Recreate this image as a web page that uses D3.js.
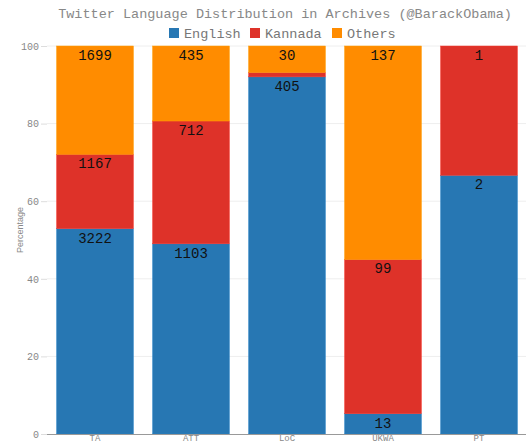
<!DOCTYPE html>
<html><head><meta charset="utf-8">
<script src="https://cdn.jsdelivr.net/npm/d3@7"></script>
<style>body{margin:0;background:#fff}svg{display:block}</style>
</head><body>
<script>
const categories = ["TA","ATT","LoC","UKWA","PT"];
const seriesNames = ["English","Kannada","Others"];
const english = [3222,1103,405,13,2];
const kannada = [1167,712,5,99,1];
const others = [1699,435,30,137,0];
const colors = ["#2777b3","#de3229","#ff8c00"];
const yTicks = [0,20,40,60,80,100];

const W=526,H=444;
const m={l:47,r:-1,t:46,b:10};
const svg=d3.select("body").append("svg").attr("width",W).attr("height",H);
const font="'Liberation Mono', 'DejaVu Sans Mono', monospace";

const x=d3.scaleBand().domain(categories).range([m.l,W-m.r]).paddingInner(0.2).paddingOuter(0.1);
const y=d3.scaleLinear().domain([0,100]).range([434,46]);

const rows=categories.map((c,i)=>({cat:c,English:english[i],Kannada:kannada[i],Others:others[i]}));
rows.forEach(r=>{const t=r.English+r.Kannada+r.Others;seriesNames.forEach(s=>{r["p_"+s]=r[s]/t*100;});});
const stack=d3.stack().keys(seriesNames.map(s=>"p_"+s))(rows);

// grid
svg.append("g").selectAll("line").data(yTicks.filter(d=>d>0)).join("line")
 .attr("x1",m.l).attr("x2",W).attr("y1",d=>y(d)).attr("y2",d=>y(d))
 .attr("stroke","#eee").attr("stroke-width",1);

// bars
stack.forEach((layer,k)=>{
  const g=svg.append("g");
  g.selectAll("rect").data(layer).join("rect")
   .attr("x",d=>x(d.data.cat)).attr("width",x.bandwidth())
   .attr("y",d=>y(d[1])).attr("height",d=>y(d[0])-y(d[1]))
   .attr("fill",colors[k]).attr("stroke",d3.color(colors[k]).brighter(0.3)).attr("stroke-width",0.5);
  g.selectAll("text").data(layer.filter(d=>d.data[seriesNames[k]]>0 && (y(d[0])-y(d[1]))>16)).join("text")
   .attr("x",d=>x(d.data.cat)+x.bandwidth()/2).attr("y",d=>y(d[1])+14)
   .attr("text-anchor","middle").attr("font-family",font).attr("font-size",14).attr("fill","#111")
   .text(d=>d.data[seriesNames[k]]);
});

// y axis
const ya=svg.append("g").attr("transform",`translate(${m.l},0)`)
 .call(d3.axisLeft(y).tickValues(yTicks).tickSize(6).tickPadding(2));
ya.select(".domain").remove();
ya.selectAll("line").attr("stroke","#ddd");
ya.selectAll("text").attr("font-family",font).attr("font-size",10).attr("fill","#888");

// x axis
const xa=svg.append("g").attr("transform","translate(0,434)")
 .call(d3.axisBottom(x).tickSize(0).tickPadding(1));
xa.select(".domain").attr("stroke","#999").attr("d",`M${m.l},0.5H${W}`);
xa.selectAll("text").attr("font-family",font).attr("font-size",9).attr("fill","#888");

svg.append("text").attr("transform","translate(23,230) rotate(-90)").attr("text-anchor","middle")
 .attr("font-family","'Liberation Sans', sans-serif").attr("font-size",9).attr("fill","#888").text("Percentage");

// title
svg.append("text").attr("x",285).attr("y",18).attr("text-anchor","middle")
 .attr("font-family",font).attr("font-size",13.5).attr("fill","#888")
 .text("Twitter Language Distribution in Archives (@BarackObama)");

// legend
const legX=[169,250,332];
const lg=svg.append("g");
seriesNames.forEach((s,i)=>{
  lg.append("rect").attr("x",legX[i]).attr("y",28).attr("width",10).attr("height",10).attr("fill",colors[i]);
  lg.append("text").attr("x",legX[i]+15).attr("y",38).attr("font-family",font).attr("font-size",13.5).attr("fill","#777").text(s);
});
</script>
</body></html>
